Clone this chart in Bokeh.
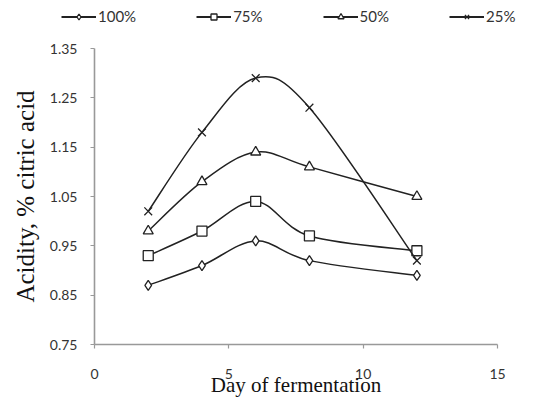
from bokeh.plotting import figure
from bokeh.models import Range1d, FixedTicker, Legend, LegendItem, ColumnDataSource
from bokeh.embed import file_html
from bokeh.resources import INLINE

days = [2, 4, 6, 8, 12]
series_names = ["100%", "75%", "50%", "25%"]
acid_100 = [0.87, 0.91, 0.96, 0.92, 0.89]
acid_75 = [0.93, 0.98, 1.04, 0.97, 0.94]
acid_50 = [0.98, 1.08, 1.14, 1.11, 1.05]
acid_25 = [1.02, 1.18, 1.29, 1.23, 0.92]
markers = ["diamond", "square", "triangle", "x"]
y_ticks = [0.75, 0.85, 0.95, 1.05, 1.15, 1.25, 1.35]
x_ticks = [0, 5, 10, 15]

W, H = 540, 402
LEG_H = 40
LEFT, TOP, RIGHT_EDGE, BOTTOM_EDGE = 94, 48, 497, 344
LINE_COLOR = "#222222"
TICK_FONT = "Lato"

# ---- legend strip on top (its swatches sit outside its own visible range) ----
pl = figure(width=W, height=LEG_H, output_backend="svg", toolbar_location=None,
            x_range=Range1d(100, 101), y_range=Range1d(100, 101),
            x_axis_type=None, y_axis_type=None, min_border=0)
pl.outline_line_color = None
pl.grid.visible = False

# ---- main chart ----
p = figure(width=W, height=H - LEG_H, output_backend="svg", toolbar_location=None,
           x_range=Range1d(0, 15), y_range=Range1d(0.75, 1.35),
           min_border_left=LEFT, min_border_right=W - RIGHT_EDGE,
           min_border_top=TOP - LEG_H, min_border_bottom=H - BOTTOM_EDGE)
p.outline_line_color = None
p.grid.visible = False

for ax in (p.xaxis[0], p.yaxis[0]):
    ax.axis_line_color = "#999999"
    ax.axis_line_width = 1.6
    ax.major_tick_line_color = "#999999"
    ax.major_tick_line_width = 1.2
    ax.major_tick_in = 0
    ax.major_tick_out = 4
    ax.minor_tick_line_color = None
    ax.major_label_text_font = TICK_FONT
    ax.major_label_text_font_size = "14px"
    ax.major_label_text_color = "#333333"
    ax.axis_label_text_font = "Liberation Serif"
    ax.axis_label_text_font_style = "normal"
    ax.axis_label_text_color = "#111111"

p.xaxis.ticker = FixedTicker(ticks=x_ticks)
p.yaxis.ticker = FixedTicker(ticks=y_ticks)
p.xaxis.major_label_standoff = 20
p.yaxis.major_label_standoff = 13
p.xaxis.axis_label = "Day of fermentation"
p.yaxis.axis_label = "Acidity, % citric acid"
p.xaxis.axis_label_text_font_size = "21px"
p.yaxis.axis_label_text_font_size = "25px"
p.xaxis.axis_label_standoff = -9
p.yaxis.axis_label_standoff = 8


def bezier_segments(xs, ys):
    n = len(xs)
    out = dict(x0=[], y0=[], x1=[], y1=[], cx0=[], cy0=[], cx1=[], cy1=[])
    for i in range(n - 1):
        a = i - 1 if i > 0 else i
        d = i + 2 if i + 2 < n else i + 1
        out["x0"].append(xs[i]); out["y0"].append(ys[i])
        out["x1"].append(xs[i + 1]); out["y1"].append(ys[i + 1])
        out["cx0"].append(xs[i] + (xs[i + 1] - xs[a]) / 6)
        out["cy0"].append(ys[i] + (ys[i + 1] - ys[a]) / 6)
        out["cx1"].append(xs[i + 1] - (xs[d] - xs[i]) / 6)
        out["cy1"].append(ys[i + 1] - (ys[d] - ys[i]) / 6)
    return out

items = []
for name, vals, mk in zip(series_names, [acid_100, acid_75, acid_50, acid_25], markers):
    seg = ColumnDataSource(bezier_segments(days, vals))
    p.bezier(x0="x0", y0="y0", x1="x1", y1="y1", cx0="cx0", cy0="cy0",
             cx1="cx1", cy1="cy1", source=seg, line_color=LINE_COLOR, line_width=1.5)
    msize = 10 if mk != "x" else 11
    p.scatter(days, vals, marker=mk, size=msize,
              fill_color="white", line_color=LINE_COLOR, line_width=1.3)
    l_line = pl.line(days, vals, line_color=LINE_COLOR, line_width=1.8)
    l_pts = pl.scatter(days, vals, marker=mk, size=msize - 1,
                       fill_color="white", line_color=LINE_COLOR, line_width=1.3)
    items.append(LegendItem(label=name, renderers=[l_line, l_pts]))

# legend location = bottom-left corner, measured up from the strip's bottom
legend = Legend(items=items, orientation="horizontal",
                location=(61, LEG_H - 25),
                label_text_font=TICK_FONT, label_text_font_size="15px",
                label_text_color="#333333", glyph_width=35, glyph_height=15,
                label_height=15, spacing=60, padding=2, margin=0, border_line_color=None,
                background_fill_alpha=0, label_standoff=2)
pl.add_layout(legend)

# two separate roots stacked on the page, so the strip's frame spans its full width
open("out.html", "w").write(file_html([pl, p], INLINE))
